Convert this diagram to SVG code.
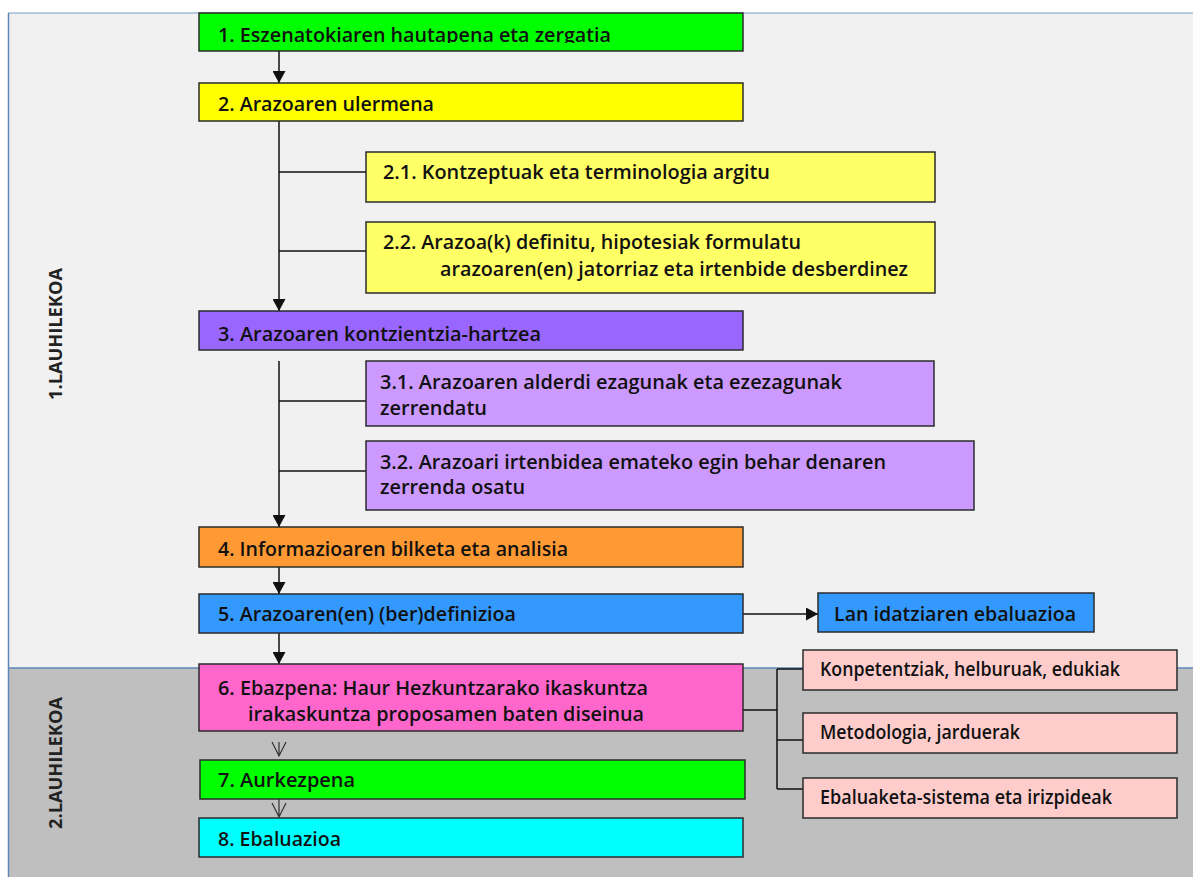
<svg xmlns="http://www.w3.org/2000/svg" width="1193" height="877" viewBox="0 0 1193 877">
<style>
.box{stroke:#2b2b2b;stroke-width:1.5}
.t{font-family:"Open Sans","Lato","Liberation Sans",sans-serif;font-weight:600;font-size:20px;fill:#111}
.s{font-family:"Open Sans","Lato","Liberation Sans",sans-serif;font-weight:600;font-size:19px;fill:#111}
.v{font-family:"Open Sans","Lato","Liberation Sans",sans-serif;font-weight:700;font-size:17px;fill:#222}
.c{stroke:#111;stroke-width:1.5;fill:none}
.o{stroke:#333;stroke-width:1.2;fill:none}
</style>
<defs>
<marker id="ah" markerWidth="12" markerHeight="13" refX="12" refY="6.5" orient="auto" markerUnits="userSpaceOnUse">
<path d="M0,0 L12,6.5 L0,13 Z" fill="#111"/>
</marker>
<clipPath id="clip1"><rect x="199" y="13" width="544" height="30"/></clipPath>
</defs>
<g id="background">
<rect x="0" y="0" width="1193" height="877" fill="#ffffff"/>
<rect x="8" y="13" width="1185" height="655" fill="#f1f1f1"/>
<rect x="8" y="668" width="1185" height="209" fill="#bfbfbf"/>
<line x1="8" y1="13" x2="1193" y2="13" stroke="#7f9fc6" stroke-width="1"/>
<line x1="8.5" y1="13" x2="8.5" y2="877" stroke="#5f86b8" stroke-width="1.5"/>
<line x1="8" y1="668" x2="1193" y2="668" stroke="#5f86b8" stroke-width="1.5"/>
<text class="v" transform="translate(62,400) rotate(-90)" textLength="132" lengthAdjust="spacingAndGlyphs">1.LAUHILEKOA</text>
<text class="v" transform="translate(62,829) rotate(-90)" textLength="132" lengthAdjust="spacingAndGlyphs">2.LAUHILEKOA</text>
</g>
<g id="connectors">
<line class="c" x1="279" y1="51" x2="279" y2="83" marker-end="url(#ah)"/>
<line class="c" x1="279" y1="121" x2="279" y2="311" marker-end="url(#ah)"/>
<line class="c" x1="279" y1="172" x2="366" y2="172"/>
<line class="c" x1="279" y1="251" x2="366" y2="251"/>
<line class="c" x1="279" y1="361" x2="279" y2="527" marker-end="url(#ah)"/>
<line class="c" x1="279" y1="401" x2="366" y2="401"/>
<line class="c" x1="279" y1="471" x2="366" y2="471"/>
<line class="c" x1="279" y1="567" x2="279" y2="594" marker-end="url(#ah)"/>
<line class="c" x1="279" y1="633" x2="279" y2="664" marker-end="url(#ah)"/>
<line class="c" x1="743" y1="614" x2="818" y2="614" marker-end="url(#ah)"/>
<path class="o" d="M279,742 V756 M272,742 L279,756 L286,742"/>
<path class="o" d="M279,799 V817 M272,803 L279,817 L286,803"/>
<path class="c" d="M743,710 H777 M777,669 V789 M777,669 H803 M777,740 H803 M777,789 H803"/>
</g>
<g id="n1"><rect class="box" x="199" y="13" width="544" height="38" fill="#00ff00"/>
<text class="t" x="218" y="42" textLength="393" lengthAdjust="spacingAndGlyphs" clip-path="url(#clip1)">1. Eszenatokiaren hautapena eta zergatia</text></g>
<g id="n2"><rect class="box" x="199" y="83" width="544" height="38" fill="#ffff00"/>
<text class="t" x="218" y="111" textLength="216" lengthAdjust="spacingAndGlyphs">2. Arazoaren ulermena</text></g>
<g id="n21"><rect class="box" x="366" y="152" width="569" height="50" fill="#ffff66"/>
<text class="s" x="383" y="179" textLength="387" lengthAdjust="spacingAndGlyphs">2.1. Kontzeptuak eta terminologia argitu</text></g>
<g id="n22"><rect class="box" x="366" y="222" width="569" height="71" fill="#ffff66"/>
<text class="s" x="383" y="249" textLength="418" lengthAdjust="spacingAndGlyphs">2.2. Arazoa(k) definitu, hipotesiak formulatu</text>
<text class="s" x="440" y="276" textLength="468" lengthAdjust="spacingAndGlyphs">arazoaren(en) jatorriaz eta irtenbide desberdinez</text></g>
<g id="n3"><rect class="box" x="199" y="311" width="544" height="39" fill="#9966ff"/>
<text class="t" x="218" y="341" textLength="323" lengthAdjust="spacingAndGlyphs">3. Arazoaren kontzientzia-hartzea</text></g>
<g id="n31"><rect class="box" x="366" y="361" width="568" height="65" fill="#cc99ff"/>
<text class="s" x="380" y="389" textLength="462" lengthAdjust="spacingAndGlyphs">3.1. Arazoaren alderdi ezagunak eta ezezagunak</text>
<text class="s" x="380" y="415" textLength="107" lengthAdjust="spacingAndGlyphs">zerrendatu</text></g>
<g id="n32"><rect class="box" x="366" y="441" width="608" height="69" fill="#cc99ff"/>
<text class="s" x="380" y="469" textLength="506" lengthAdjust="spacingAndGlyphs">3.2. Arazoari irtenbidea emateko  egin  behar denaren</text>
<text class="s" x="380" y="494" textLength="145" lengthAdjust="spacingAndGlyphs">zerrenda osatu</text></g>
<g id="n4"><rect class="box" x="199" y="527" width="544" height="40" fill="#ff9933"/>
<text class="t" x="218" y="556" textLength="350" lengthAdjust="spacingAndGlyphs">4. Informazioaren bilketa eta analisia</text></g>
<g id="n5"><rect class="box" x="199" y="594" width="544" height="39" fill="#3399ff"/>
<text class="t" x="218" y="621" textLength="298" lengthAdjust="spacingAndGlyphs">5. Arazoaren(en) (ber)definizioa</text></g>
<g id="lan"><rect class="box" x="818" y="593" width="276" height="39" fill="#3399ff"/>
<text class="t" x="834" y="621" textLength="242" lengthAdjust="spacingAndGlyphs">Lan idatziaren ebaluazioa</text></g>
<g id="n6"><rect class="box" x="199" y="664" width="544" height="67" fill="#ff66cc"/>
<text class="t" x="218" y="695" textLength="430" lengthAdjust="spacingAndGlyphs">6. Ebazpena: Haur Hezkuntzarako ikaskuntza</text>
<text class="t" x="248" y="721" textLength="396" lengthAdjust="spacingAndGlyphs">irakaskuntza proposamen baten diseinua</text></g>
<g id="n7"><rect class="box" x="200" y="760" width="545" height="39" fill="#00ff00"/>
<text class="t" x="218" y="787" textLength="137" lengthAdjust="spacingAndGlyphs">7. Aurkezpena</text></g>
<g id="n8"><rect class="box" x="199" y="818" width="544" height="39" fill="#00ffff"/>
<text class="t" x="218" y="846" textLength="123" lengthAdjust="spacingAndGlyphs">8. Ebaluazioa</text></g>
<g id="k"><rect class="box" x="803" y="650" width="374" height="40" fill="#ffcccc"/>
<text class="s" x="820" y="676" textLength="300" lengthAdjust="spacingAndGlyphs">Konpetentziak, helburuak, edukiak</text></g>
<g id="m"><rect class="box" x="803" y="713" width="374" height="40" fill="#ffcccc"/>
<text class="s" x="820" y="739" textLength="200" lengthAdjust="spacingAndGlyphs">Metodologia, jarduerak</text></g>
<g id="e"><rect class="box" x="803" y="778" width="374" height="40" fill="#ffcccc"/>
<text class="s" x="820" y="804" textLength="292" lengthAdjust="spacingAndGlyphs">Ebaluaketa-sistema eta irizpideak</text></g>
</svg>
